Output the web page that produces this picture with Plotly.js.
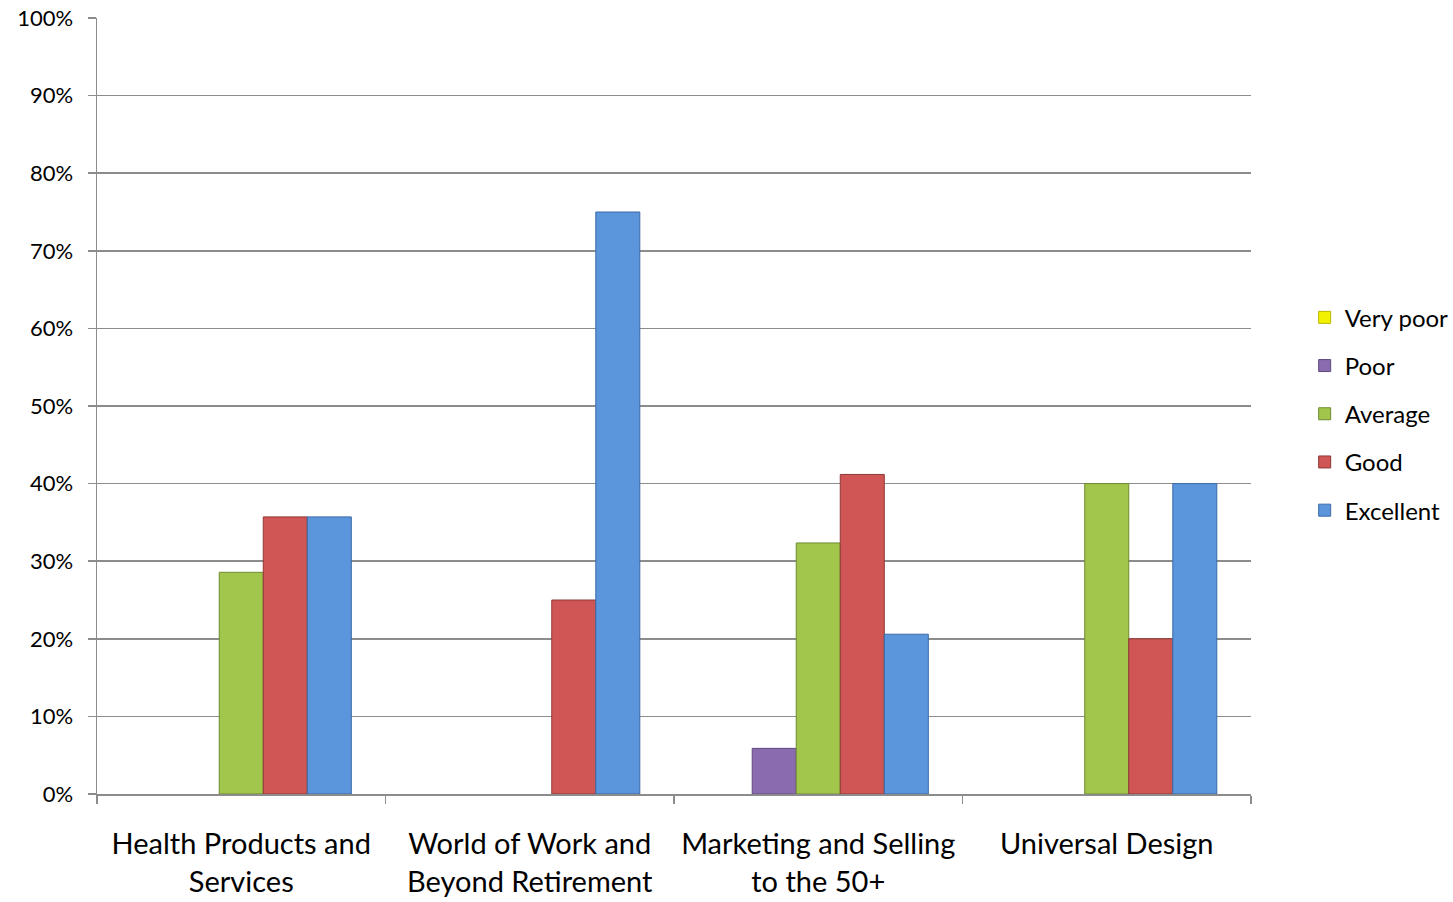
<!DOCTYPE html>
<html>
<head>
<meta charset="utf-8">
<script src="https://cdn.plot.ly/plotly-3.0.1.min.js"></script>
<style>
  html, body { margin: 0; padding: 0; background: #fff; }
  #chart { width: 1453px; height: 902px; }
</style>
</head>
<body>
<div id="chart"></div>
<script>
// Survey ratings by topic area (share of responses)
const categories = [
  "Health Products and<br>Services",
  "World of Work and<br>Beyond Retirement",
  "Marketing and Selling<br>to the 50+",
  "Universal Design"
];
const seriesNames = ["Very poor", "Poor", "Average", "Good", "Excellent"];
const veryPoor  = [null, null, null, null];
const poor      = [null, null, 0.0588, null];
const average   = [0.2857, null, 0.3235, 0.40];
const good      = [0.3571, 0.25, 0.4118, 0.20];
const excellent = [0.3571, 0.75, 0.2059, 0.40];
const yTicks = [0, 0.1, 0.2, 0.3, 0.4, 0.5, 0.6, 0.7, 0.8, 0.9, 1.0];

const fills = ["#F2F200", "#8A6BB0", "#A2C64B", "#CF5654", "#5B96DC"];
const edges = ["#B8B800", "#5F4A80", "#6F8A30", "#8E3836", "#3A6AA5"];
const values = [veryPoor, poor, average, good, excellent];

const fontFamily = "Lato, 'Open Sans', sans-serif";

const traces = seriesNames.map((name, i) => ({
  type: "bar",
  name: name,
  x: categories,
  y: values[i],
  legendgroup: name,
  marker: { color: fills[i], line: { color: edges[i], width: 1 } },
  hoverinfo: "x+y+name"
}));

const layout = {
  width: 1453,
  height: 902,
  margin: { l: 97, r: 202, t: 18, b: 108, pad: 0, autoexpand: false },
  paper_bgcolor: "#ffffff",
  plot_bgcolor: "#ffffff",
  barmode: "group",
  bargap: 0.237,
  bargroupgap: 0,
  font: { family: fontFamily, color: "#000000" },
  xaxis: {
    type: "category",
    tickson: "boundaries",
    ticks: "outside",
    ticklen: 8,
    tickwidth: 1.5,
    tickcolor: "#8c8c8c",
    showline: true,
    linecolor: "#8c8c8c",
    linewidth: 1.5,
    showgrid: false,
    tickfont: { size: 29, family: fontFamily },
    ticklabelstandoff: 24
  },
  yaxis: {
    range: [0, 1],
    tickvals: yTicks,
    tickformat: ".0%",
    ticks: "outside",
    ticklen: 8,
    tickwidth: 1.5,
    tickcolor: "#8c8c8c",
    showline: true,
    linecolor: "#8c8c8c",
    linewidth: 1.5,
    showgrid: true,
    gridcolor: "#8c8c8c",
    gridwidth: 1.5,
    zeroline: false,
    tickfont: { size: 22, family: fontFamily },
    ticklabelstandoff: 10
  },
  legend: {
    x: 1.0465,
    xanchor: "left",
    y: 0.49,
    yanchor: "middle",
    font: { size: 24, family: fontFamily },
    tracegroupgap: 14,
    itemwidth: 30,
    traceorder: "grouped",
    bgcolor: "rgba(0,0,0,0)"
  },
  showlegend: true
};

Plotly.newPlot("chart", traces, layout, { displayModeBar: false, staticPlot: true });
</script>
</body>
</html>
